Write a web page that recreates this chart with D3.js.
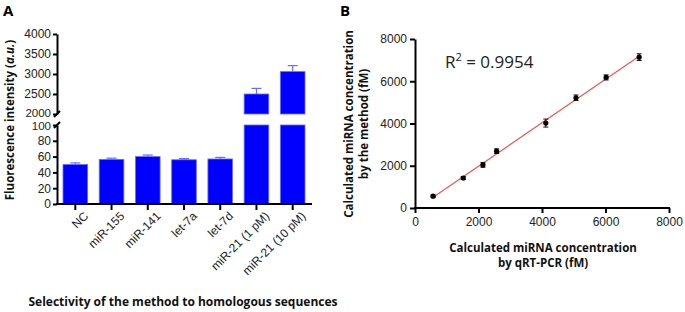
<!DOCTYPE html>
<html>
<head>
<meta charset="utf-8">
<script src="https://cdn.jsdelivr.net/npm/d3@7"></script>
<style>
  body { margin: 0; background: #fff; }
  svg { font-family: "Open Sans", sans-serif; }
  .tick text { fill: #222; font-size: 12px; }
  .axis path, .axis line { stroke: #000; stroke-width: 2px; }
</style>
</head>
<body>
<svg id="chart" width="685" height="312"></svg>
<script>
// panel A data
const categories = ['NC', 'miR-155', 'miR-141', 'let-7a', 'let-7d', 'miR-21 (1 pM)', 'miR-21 (10 pM)'];
const intensity = [50, 56.5, 60, 56, 57, 2500, 3060];
const intensityErr = [2, 1.5, 2, 1.5, 2, 140, 150];
const lowTicks = [0, 20, 40, 60, 80, 100];
const highTicks = [2000, 2500, 3000, 3500, 4000];

// panel B data
const qrtpcr = [570, 1520, 2140, 2570, 4120, 5070, 6020, 7060];
const method = [560, 1420, 2040, 2690, 4020, 5220, 6180, 7140];
const methodErr = [60, 70, 110, 110, 190, 130, 120, 160];
const bTicks = [0, 2000, 4000, 6000, 8000];

const svg = d3.select('#chart');
const fmt = d3.format('d');

// ---------- panel A ----------
const axX = 57, axBottom = 204;
const xA = d3.scaleBand().domain(categories).range([63, 305]).paddingInner(0.32).paddingOuter(0);
const yLow = d3.scaleLinear().domain([0, 100]).range([204, 125]);
const yHigh = d3.scaleLinear().domain([2000, 4000]).range([114, 34]);

const gA = svg.append('g');
const blue = '#0000ff';
const lightBlue = '#6b6bff';

// bars: lower segment clipped at 100, upper segment from 2000
categories.forEach((c, i) => {
  const v = intensity[i];
  const x = xA(c), w = xA.bandwidth();
  const lowTop = yLow(Math.min(v, 100));
  gA.append('rect').attr('x', x).attr('y', lowTop).attr('width', w).attr('height', yLow(0) - lowTop)
    .attr('fill', blue).attr('stroke', lightBlue).attr('stroke-width', 0.8);
  let topY = lowTop;
  if (v > 2000) {
    topY = yHigh(v);
    gA.append('rect').attr('x', x).attr('y', topY).attr('width', w).attr('height', yHigh(2000) - topY)
      .attr('fill', blue).attr('stroke', lightBlue).attr('stroke-width', 0.8);
  }
  const errY = v > 2000 ? yHigh(v + intensityErr[i]) : yLow(v + intensityErr[i]);
  const cx = x + w / 2;
  gA.append('line').attr('x1', cx).attr('x2', cx).attr('y1', topY).attr('y2', errY)
    .attr('stroke', lightBlue).attr('stroke-width', 1.2);
  gA.append('line').attr('x1', cx - 5).attr('x2', cx + 5).attr('y1', errY).attr('y2', errY)
    .attr('stroke', lightBlue).attr('stroke-width', 1.2);
});

// y axes (two segments)
const lowAxis = gA.append('g').attr('class', 'axis').attr('transform', `translate(${axX},0)`)
  .call(d3.axisLeft(yLow).tickValues(lowTicks).tickFormat(fmt).tickSize(4).tickSizeOuter(0).tickPadding(2));
const highAxis = gA.append('g').attr('class', 'axis').attr('transform', `translate(${axX},0)`)
  .call(d3.axisLeft(yHigh).tickValues(highTicks).tickFormat(fmt).tickSize(4).tickSizeOuter(0).tickPadding(2));
// labels at the break sit close together, nudge them apart a little
lowAxis.selectAll('.tick text').filter(d => d === 100).attr('y', 1);
highAxis.selectAll('.tick text').filter(d => d === 2000).attr('y', -1.5);
gA.selectAll('.axis .tick text').filter(d => d === 100 || d === 2000).style('font-size', '11.5px');

// break marks
[114, 125].forEach(y => {
  gA.append('line').attr('x1', axX - 3).attr('x2', axX + 3).attr('y1', y + 3).attr('y2', y - 3)
    .attr('stroke', '#000').attr('stroke-width', 2);
});

// x axis
const xAxisA = gA.append('g').attr('class', 'axis').attr('transform', `translate(0,${axBottom})`)
  .call(d3.axisBottom(xA).tickSize(5).tickSizeOuter(0));
xAxisA.select('.domain').attr('d', `M${axX - 1},0H312`);
xAxisA.selectAll('.tick line').attr('transform', 'translate(0,1)');
xAxisA.selectAll('.tick text')
  .attr('text-anchor', 'end')
  .attr('transform', 'translate(3,2) rotate(-45)')
  .attr('dy', '0.6em')
  .style('font-size', '12px');

gA.append('text').attr('transform', 'translate(14,120) rotate(-90)')
  .attr('text-anchor', 'middle').style('font-size', '11.5px').style('font-weight', 'bold').attr('fill', '#111')
  .call(t => {
    t.append('tspan').text('Fluorescence intensity (');
    t.append('tspan').style('font-style', 'italic').text('a.u.');
    t.append('tspan').text(')');
  });
gA.append('text').attr('x', 183).attr('y', 306).attr('text-anchor', 'middle')
  .style('font-size', '12px').style('font-weight', 'bold').attr('fill', '#111')
  .text('Selectivity of the method to homologous sequences');
svg.append('text').attr('x', 3).attr('y', 16).style('font-size', '15px').style('font-weight', 'bold').text('A');

// ---------- panel B ----------
const xB = d3.scaleLinear().domain([0, 8000]).range([415, 669]);
const yB = d3.scaleLinear().domain([0, 8000]).range([208, 39]);
const gB = svg.append('g');

const xAxisB = gB.append('g').attr('class', 'axis').attr('transform', `translate(0,${yB(0)})`)
  .call(d3.axisBottom(xB).tickValues(bTicks).tickFormat(fmt).tickSize(5).tickSizeOuter(0).tickPadding(4));
xAxisB.select('.domain').attr('d', `M${xB(0) - 1},0H${xB(8000) + 1}`);
gB.append('g').attr('class', 'axis').attr('transform', `translate(${xB(0)},0)`)
  .call(d3.axisLeft(yB).tickValues(bTicks).tickFormat(fmt).tickSize(5).tickSizeOuter(0).tickPadding(3));

// fit line through the data
const mx = d3.mean(qrtpcr), my = d3.mean(method);
const slope = d3.sum(qrtpcr, (x, i) => (x - mx) * (method[i] - my)) / d3.sum(qrtpcr, x => (x - mx) ** 2);
const icpt = my - slope * mx;
const xs = d3.extent(qrtpcr);
gB.append('line')
  .attr('x1', xB(xs[0])).attr('y1', yB(icpt + slope * xs[0]))
  .attr('x2', xB(xs[1])).attr('y2', yB(icpt + slope * xs[1]))
  .attr('stroke', '#ee5555').attr('stroke-width', 1.2);

// error bars + points
qrtpcr.forEach((x, i) => {
  const cx = xB(x), y1 = yB(method[i] - methodErr[i]), y2 = yB(method[i] + methodErr[i]);
  gB.append('line').attr('x1', cx).attr('x2', cx).attr('y1', y1).attr('y2', y2).attr('stroke', '#111').attr('stroke-width', 1);
  [y1, y2].forEach(y => gB.append('line').attr('x1', cx - 2.5).attr('x2', cx + 2.5).attr('y1', y).attr('y2', y)
    .attr('stroke', '#111').attr('stroke-width', 1));
});
gB.selectAll('circle').data(qrtpcr).join('circle')
  .attr('cx', d => xB(d)).attr('cy', (d, i) => yB(method[i])).attr('r', 2.6).attr('fill', '#000');

gB.append('text').attr('x', 445).attr('y', 68).style('font-size', '17px').attr('fill', '#222')
  .call(t => {
    t.append('tspan').text('R');
    t.append('tspan').attr('dy', -7).style('font-size', '11px').text('2');
    t.append('tspan').attr('dy', 7).text(' = 0.9954');
  });

const yTitle = gB.append('text').attr('transform', 'translate(356,124) rotate(-90)')
  .attr('text-anchor', 'middle').style('font-size', '11.5px').style('font-weight', 'bold').attr('fill', '#111');
yTitle.append('tspan').attr('x', 0).attr('dy', '-0.3em').text('Calculated miRNA concentration');
yTitle.append('tspan').attr('x', 0).attr('dy', '1.35em').text('by the method (fM)');

const xTitle = gB.append('text').attr('transform', 'translate(543,252)')
  .attr('text-anchor', 'middle').style('font-size', '11.5px').style('font-weight', 'bold').attr('fill', '#111');
xTitle.append('tspan').attr('x', 0).attr('y', 0).text('Calculated miRNA concentration');
xTitle.append('tspan').attr('x', 0).attr('dy', '1.3em').text('by qRT-PCR (fM)');
svg.append('text').attr('x', 340).attr('y', 16).style('font-size', '15px').style('font-weight', 'bold').text('B');
</script>
</body>
</html>
